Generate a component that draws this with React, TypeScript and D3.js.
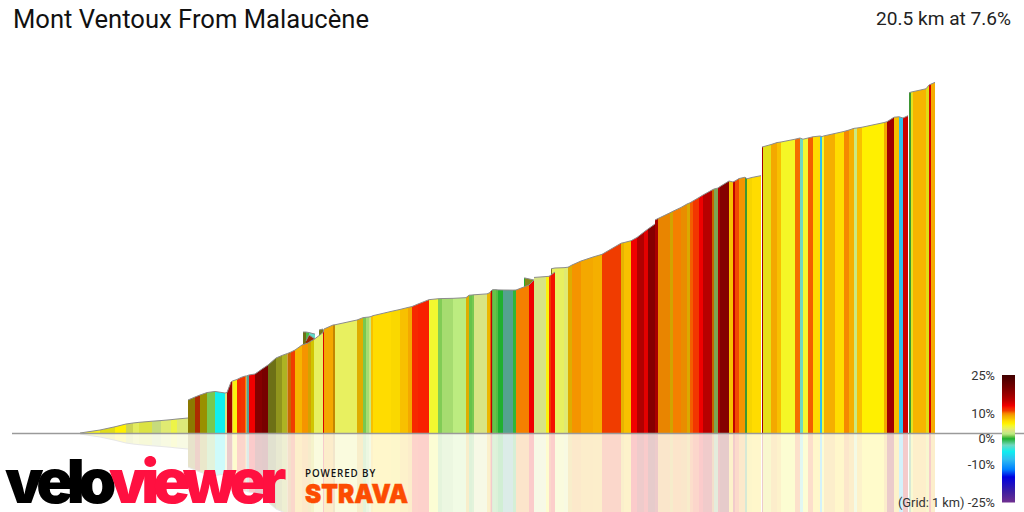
import React from "react";
import * as d3 from "d3";

const titleText = "Mont Ventoux From Malaucène";
const summaryText = "20.5 km at 7.6%";
const legendTicks = [25, 10, 0, -10, -25];

// distance along the climb (m)
const segmentDist = [
  0, 480, 840, 1104, 1272, 1416, 1728, 1944, 2184, 2328,
  2592, 2592, 2760, 2880, 3048, 3240, 3480, 3528, 3624, 3660,
  3768, 3864, 3960, 3996, 4056, 4200, 4368, 4512, 4704, 4848,
  4980, 5064, 5160, 5328, 5352, 5424, 5496, 5640, 5640, 5496,
  5424, 5736, 5832, 5328, 5472, 5544, 5616, 5832, 5856, 6072,
  6120, 6648, 6792, 6864, 6936, 6984, 7032, 7464, 7680, 7872,
  7968, 8112, 8376, 8592, 8688, 8952, 9264, 9336, 9408, 9456,
  9768, 9840, 9864, 9888, 9912, 9984, 10032, 10152, 10392, 10464,
  10656, 10680, 10896, 10464, 10776, 10896, 10896, 11184, 11256, 11304,
  11328, 11400, 11256, 11304, 11400, 11400, 11616, 11712, 11808, 12024,
  12312, 12528, 12984, 13056, 13224, 13368, 13536, 13632, 13800, 13800,
  13872, 14160, 14232, 14424, 14568, 14640, 14712, 14856, 14952, 15168,
  15216, 15312, 15360, 15576, 15672, 15720, 15816, 15960, 16008, 16128,
  16344, 16368, 16392, 16584, 16728, 16824, 17160, 17280, 17352, 17472,
  17592, 17760, 17808, 17856, 18120, 18336, 18456, 18576, 18648, 18768,
  19296, 19368, 19536, 19656, 19752, 19872, 19896, 19944, 19992, 20304,
  20376, 20424, 20520,
];

// elevation gain at the start of each segment (m)
const segmentElev = [
  0, 13.5, 28, 40.5, 45, 48, 53, 56, 60, 63,
  67.5, 148.5, 162, 171, 182, 187, 180, 182, 229.5, 234,
  241, 250, 256, 257, 261, 265.5, 288, 306, 337.5, 349,
  358, 364.5, 373.5, 396, 454.5, 454.5, 452, 445, 423, 441,
  414, 463.5, 468, 396, 405, 414, 421, 452, 468, 486,
  487, 508.5, 519, 520.6, 522, 524, 528, 547, 556, 565,
  569, 580.5, 600, 604, 605, 606, 609, 620, 621, 622,
  626, 632, 639, 643.5, 645, 645, 644, 643.5, 643, 643.5,
  697.5, 697.5, 688.5, 643.5, 666, 688.5, 700, 704, 705, 738,
  740, 742.5, 705, 711, 724.5, 742.5, 744, 746, 756, 774,
  792, 804, 854, 857, 865, 880, 904.5, 918, 940.5, 958.5,
  965, 991, 998, 1015, 1030.5, 1036, 1044, 1060, 1071, 1093.5,
  1098, 1102.5, 1109, 1134, 1129.5, 1134, 1145, 1151, 1144, 1150,
  1158, 1287, 1288, 1298, 1307, 1309.5, 1322, 1327.5, 1322, 1327.5,
  1333, 1336.5, 1334, 1337, 1348, 1357, 1363.5, 1371, 1372.5, 1376,
  1397, 1401, 1421, 1423, 1417.5, 1428, 1531, 1534, 1536, 1549,
  1566, 1570, 1578,
];

// gradient of each segment (%); null = no road drawn to the next row
const segmentGrade: (number | null)[] = [
  5.5, 5.5, 6, 4, 4, 4.5, 2.7, 3.5, 4.5, 3.3,
  null, 7, 11, 6, 1, -5, 3, 17, 17, 5.7,
  11.5, 11.3, 10, -2.5, 13, 19, 20, 5, 5, 5,
  10, 11, 8.5, null, 5, 0.5, -3, null, 11, 11,
  null, 5, null, 9.5, 8, 6, 4, 14, 9, 9,
  4, 8, 1, 1.5, 2.5, 8, 7, 7, 8, 9,
  11.7, 12, 5, 1.1, 1.5, 2, 8, 0.8, 1, 3,
  8, 10.5, 15, 1, 0.8, 0.6, 0, -2.5, 0.2, null,
  0, 5, null, 10, 13, null, 3, 5.7, null, 5,
  4, null, 11, 12.5, null, 4, 3.5, 8, 9.5, 9,
  8.7, 11, 8, 8, 13, 16, 13.5, 19, null, 16.5,
  9.7, 8, 10, 9.5, 8, 10.5, 11.2, 13, 15.5, 10,
  1.5, 16, 19, 8, 15, 10.8, 9.5, 0.5, 7, 7,
  null, 17, 5.5, 9, 8, 5.2, 10.3, -2.5, 5, 10.5,
  7, -8, 5, 8.7, 7, 9.8, 8.7, 2.5, 8, 6,
  9, 17, 8, -8, 14.5, null, 0.5, 5.3, 8.5, 5.5,
  14, 8.8, null,
];

// how much light each face of the ribbon catches
const segmentLight = [
  1, 0.9, 1, 0.88, 0.98, 0.93, 0.95, 1, 1, 1,
  1, 0.55, 0.72, 0.6, 1, 1, 1, 1, 1, 1,
  1, 1, 1, 0.75, 1, 1, 1, 0.45, 0.6, 0.72,
  0.82, 1, 1, 1, 0.45, 1, 1, 1, 0.65, 0.65,
  1, 0.5, 1, 1, 0.85, 0.82, 1, 1, 1, 0.8,
  1, 0.9, 1, 1, 1, 1, 1, 0.98, 1, 1,
  1, 1, 1, 1, 1, 1, 0.9, 1, 1, 1,
  0.95, 1, 1, 0.85, 1, 1, 1, 0.75, 1, 1,
  1, 0.55, 1, 1, 1, 1, 1, 1, 1, 0.5,
  1, 1, 1, 1, 1, 1, 1, 0.9, 1, 1,
  1, 1, 0.93, 1, 1, 1, 1, 1, 1, 1,
  0.95, 0.85, 1, 0.95, 0.88, 1, 1, 1, 1, 0.8,
  0.75, 1, 1, 1, 1, 1, 1, 0.8, 0.97, 1,
  1, 1, 0.92, 1, 1, 1, 1, 1, 1, 1,
  1, 1, 1, 1, 1, 1, 1, 1, 1, 1,
  1, 1, 1, 1, 1, 1, 0.8, 0.92, 1, 0.9,
  1, 1, 1,
];

const gradeStops = [-25, -21, -15, -12, -8, -5, -2.5, 0, 1, 1.5, 2, 3, 4, 5, 6, 7, 8, 9, 10, 11, 12, 13, 15, 17, 20, 25];
const gradeColours = [
  "#703090", "#4020a0", "#0000e0", "#0080ff", "#30c0f0", "#10eef0", "#70d8c0", "#20b030",
  "#78c850", "#a6dc70", "#bcec80", "#d8e484", "#e8f060", "#f2f830", "#fff000", "#ffdc00",
  "#f8c000", "#f4a800", "#f58000", "#f03c00", "#f82000", "#f00000", "#c00000", "#a00000",
  "#780000", "#400000",
];

const W = 1024;
const H = 512;
const x = d3.scaleLinear().domain([0, 20520]).range([80, 935]);
const y = d3.scaleLinear().domain([0, 1575]).range([433, 83]);
const colour = d3.scaleLinear<string>().domain(gradeStops).range(gradeColours).interpolate(d3.interpolateRgb);
const legendY = d3.scaleLinear().domain([25, -25]).range([375, 502.5]);
const base = y(0);

function shaded(grade: number, light: number) {
  const c = d3.rgb(colour(grade));
  return d3.rgb(Math.min(255, c.r * light), Math.min(255, c.g * light), Math.min(255, c.b * light)).formatHex();
}

const line = d3.line<[number, number]>();

function Ribbon() {
  return (
    <>
      {segmentDist.slice(0, -1).map((d, i) => {
        const g = segmentGrade[i];
        if (g === null) return null;
        const a = x(d);
        const b = x(segmentDist[i + 1]);
        const t0 = y(segmentElev[i]);
        const t1 = y(segmentElev[i + 1]);
        const face = line([[a, base], [a, t0], [b, t1], [b, base]]) + "Z";
        const edge = line([[a, t0], [b, t1]]) as string;
        return (
          <g key={i}>
            <path d={face} fill={shaded(g, segmentLight[i])} />
            <path d={edge} fill="none" stroke="#8c8c8c" strokeWidth={1} />
          </g>
        );
      })}
    </>
  );
}

export default function App() {
  const samples = d3.range(25, -25.01, -0.5);
  return (
    <svg
      width={W}
      height={H}
      viewBox={`0 0 ${W} ${H}`}
      style={{ position: "fixed", left: 0, top: 0, display: "block", background: "#fff" }}
    >
      <defs>
        <linearGradient id="gradeRamp" x1="0" y1="0" x2="0" y2="1">
          {samples.map((g) => (
            <stop key={g} offset={(25 - g) / 50} stopColor={colour(g)} />
          ))}
        </linearGradient>
      </defs>

      <g opacity={0.2} transform={`translate(0 ${2 * base + 1}) scale(1 -1)`}>
        <Ribbon />
      </g>
      <Ribbon />
      <line x1={12} x2={W} y1={base + 0.5} y2={base + 0.5} stroke="#9a9a9a" strokeWidth={1.5} />

      <text x={13} y={28} fontFamily="Roboto" fontSize={25.6} fill="#111">{titleText}</text>
      <text x={1011} y={25} textAnchor="end" fontFamily="Roboto" fontSize={19.1} fill="#222">{summaryText}</text>

      <rect x={1002} y={legendY(25)} width={13} height={legendY(-25) - legendY(25)} fill="url(#gradeRamp)" />
      {legendTicks.map((t) => (
        <text key={t} x={995} y={legendY(t) + 4.5} textAnchor="end" fontFamily="Roboto" fontSize={12.8} fill="#333">
          {t === -25 ? `(Grid: 1 km) ${t}%` : `${t}%`}
        </text>
      ))}

      <text x={5} y={503} fontFamily="Inter" fontWeight={900} fontSize={61} letterSpacing={-6.4}>
        <tspan fill="#000">velo</tspan>
        <tspan fill="#ff1040">viewer</tspan>
      </text>

      <text x={305} y={477} fontFamily="Open Sans" fontWeight={600} fontSize={9.8} letterSpacing={0.9} fill="#111">POWERED BY</text>
      <text x={305} y={503} fontFamily="Inter" fontWeight={900} fontSize={26} textLength={103} lengthAdjust="spacingAndGlyphs" fill="#fc4c02" stroke="#fc4c02" strokeWidth={0.5}>STRAVA</text>
    </svg>
  );
}
